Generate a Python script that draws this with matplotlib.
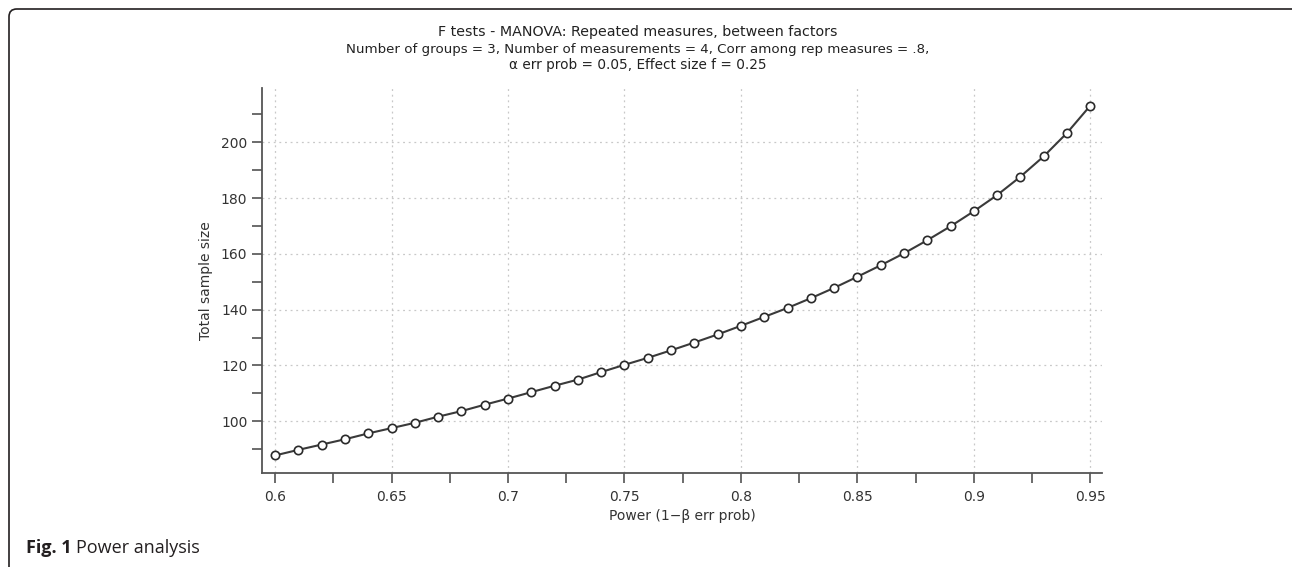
import numpy as np
import matplotlib
matplotlib.use("Agg")
import matplotlib.pyplot as plt
from matplotlib.patches import FancyBboxPatch
from matplotlib.ticker import MultipleLocator

plt.rcParams['font.family'] = ['DejaVu Sans']

power = [0.60, 0.61, 0.62, 0.63, 0.64, 0.65, 0.66, 0.67, 0.68, 0.69,
         0.70, 0.71, 0.72, 0.73, 0.74, 0.75, 0.76, 0.77, 0.78, 0.79,
         0.80, 0.81, 0.82, 0.83, 0.84, 0.85, 0.86, 0.87, 0.88, 0.89,
         0.90, 0.91, 0.92, 0.93, 0.94, 0.95]
sample_size = [87.7, 89.7, 91.6, 93.5, 95.6, 97.5, 99.4, 101.6, 103.6, 105.9,
               108.1, 110.4, 112.7, 114.9, 117.6, 120.2, 122.7, 125.4, 128.2, 131.1,
               134.2, 137.4, 140.6, 144.1, 147.8, 151.8, 155.9, 160.2, 164.9, 169.9,
               175.3, 181.1, 187.7, 195.0, 203.4, 213.2]

title_lines = ["F tests - MANOVA: Repeated measures, between factors",
               "Number of groups = 3, Number of measurements = 4, Corr among rep measures = .8,",
               "\u03b1 err prob = 0.05, Effect size f = 0.25"]

W, H = 1292, 567
fig = plt.figure(figsize=(W / 100, H / 100), dpi=100)

# axes placed in pixel terms
left, right, top, bottom = 262, 1102, 88, 473
ax = fig.add_axes([left / W, 1 - bottom / H, (right - left) / W, (bottom - top) / H])

ax.plot(power, sample_size, "-", color="#3a3a3a", lw=1.5,
        marker="o", markersize=6, markerfacecolor="white",
        markeredgecolor="#2a2a2a", markeredgewidth=1.2, zorder=3)

ax.set_xlim(0.5944, 0.955)
ax.set_ylim(81.4, 219.5)
ax.xaxis.set_minor_locator(MultipleLocator(0.025))
ax.yaxis.set_minor_locator(MultipleLocator(10))
ax.set_xticks([0.6, 0.65, 0.7, 0.75, 0.8, 0.85, 0.9, 0.95])
ax.set_xticklabels(["0.6", "0.65", "0.7", "0.75", "0.8", "0.85", "0.9", "0.95"])
ax.set_yticks([100, 120, 140, 160, 180, 200])

for s in ["top", "right"]:
    ax.spines[s].set_visible(False)
for s in ["left", "bottom"]:
    ax.spines[s].set_color("#555555")
    ax.spines[s].set_linewidth(1.3)

ax.tick_params(which="both", direction="out", length=7.5, width=1.1, color="#444444",
               labelsize=10, labelcolor="#333333")
ax.tick_params(axis="x", pad=5)
ax.tick_params(axis="y", pad=3)
ax.grid(True, which="major", linestyle=(0, (1.5, 3)), color="#c8c8c8", lw=0.9)

ax.set_xlabel("Power (1\u2212\u03b2 err prob)", fontsize=10, color="#333333", labelpad=3)
ax.set_ylabel("Total sample size", fontsize=10, color="#333333", labelpad=6)

tx = 638 / W
fig.text(tx, 1 - 32 / H, title_lines[0], ha="center", va="center", fontsize=10.3, color="#222222")
fig.text(tx, 1 - 49 / H, title_lines[1], ha="center", va="center", fontsize=9.6, color="#222222")
fig.text(tx, 1 - 65.5 / H, title_lines[2], ha="center", va="center", fontsize=9.8, color="#222222")

# caption
fig.text(26 / W, 1 - 548 / H, "Fig. 1", ha="left", va="center", fontsize=13,
         fontweight="bold", family="Open Sans", color="#231f20")
fig.text(76 / W, 1 - 548 / H, "Power analysis", ha="left", va="center", fontsize=13,
         family="Open Sans", color="#231f20")

# rounded frame around the figure, running off the right and bottom edges
frame = FancyBboxPatch((9 / W, -0.02), 1.02, 1 - 9 / H + 0.02,
                       boxstyle="round,pad=0,rounding_size=0.006",
                       transform=fig.transFigure, fill=False,
                       edgecolor="#231f20", lw=1.2, mutation_aspect=W / H)
fig.patches.append(frame)

fig.savefig("out.png", dpi=100, facecolor="white")
